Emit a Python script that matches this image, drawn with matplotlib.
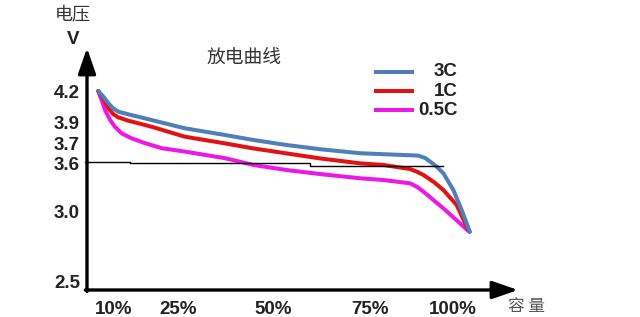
import numpy as np
import matplotlib
matplotlib.use('Agg')
import matplotlib.pyplot as plt
from matplotlib.lines import Line2D

# ---- data (capacity in %, voltage in V) ----
x_ticks = [10, 25, 50, 75, 100]
x_tick_labels = ["10%", "25%", "50%", "75%", "100%"]
y_ticks = [2.5, 3.0, 3.6, 3.7, 3.9, 4.2]
y_tick_labels = ["2.5", "3.0", "3.6", "3.7", "3.9", "4.2"]

series_names = ["3C", "1C", "0.5C"]

cap_3c = [6.3, 7.5, 8.7, 9.8, 11.0, 13.4, 15.7, 18.8, 26.8, 37.4, 44.8, 53.5, 62.1, 72.4,
          79.0, 89.5, 91.6, 93.1, 95.1, 97.1, 98.6, 100.1, 102.6, 105.1]
volt_3c = [4.20, 4.145, 4.081, 4.033, 4.00, 3.974, 3.951, 3.919, 3.84, 3.776, 3.729, 3.69, 3.669, 3.649,
           3.644, 3.637, 3.625, 3.607, 3.555, 3.474, 3.371, 3.27, 3.025, 2.855]

cap_1c = [6.3, 7.5, 8.7, 9.8, 11.0, 13.4, 15.7, 18.8, 26.8, 37.4, 44.8, 53.5, 62.1, 72.4,
          79.0, 87.0, 89.1, 91.1, 94.1, 97.1, 101.1, 104.6]
volt_1c = [4.20, 4.129, 4.033, 3.977, 3.945, 3.912, 3.888, 3.855, 3.76, 3.698, 3.673, 3.648, 3.623, 3.596,
           3.576, 3.527, 3.494, 3.453, 3.371, 3.27, 3.086, 2.87]

cap_05c = [6.3, 7.1, 7.9, 9.1, 10.2, 11.8, 14.1, 17.3, 21.2, 26.8, 37.4, 44.8, 53.5, 62.1, 72.4,
           79.0, 87.0, 89.1, 91.1, 94.1, 97.1, 102.1, 104.9]
volt_05c = [4.20, 4.113, 4.016, 3.919, 3.855, 3.792, 3.745, 3.699, 3.674, 3.657, 3.624, 3.576, 3.514, 3.465, 3.413,
            3.392, 3.352, 3.31, 3.249, 3.147, 3.045, 2.918, 2.857]

ref_cap = [3.2, 13.7, 59.5, 97.0]
ref_volt = [3.607, 3.594, 3.563, 3.563]

colors = ["#4f7fb8", "#e31212", "#ec18e6"]

# ---- schematic axes: tick labels are not evenly spaced ----
x_tick_px = [114, 178, 273, 370, 453]
y_tick_px = [281, 212, 163, 143, 122, 91]


def piecewise(xs, ys):
    xs = np.asarray(xs, float)
    ys = np.asarray(ys, float)

    def f(v):
        v = np.asarray(v, float)
        out = np.interp(v, xs, ys)
        lo_slope = (ys[1] - ys[0]) / (xs[1] - xs[0])
        hi_slope = (ys[-1] - ys[-2]) / (xs[-1] - xs[-2])
        out = np.where(v < xs[0], ys[0] + (v - xs[0]) * lo_slope, out)
        out = np.where(v > xs[-1], ys[-1] + (v - xs[-1]) * hi_slope, out)
        return out
    return f


x_fwd = piecewise(x_ticks, x_tick_px)
x_inv = piecewise(x_tick_px, x_ticks)
y_neg = [-p for p in y_tick_px]
y_fwd = piecewise(y_ticks, y_neg)
y_inv = piecewise(y_neg, y_ticks)

W, H = 640, 317
ax_left, ax_right, ax_top, ax_bottom = 87, 518, 48, 290

plt.rcParams['font.family'] = ['Liberation Sans', 'Noto Sans CJK SC', 'DejaVu Sans']
fig = plt.figure(figsize=(6.4, 3.17), dpi=100)
ax = fig.add_axes([ax_left / W, 1 - ax_bottom / H,
                   (ax_right - ax_left) / W, (ax_bottom - ax_top) / H])
ax.set_xscale('function', functions=(x_fwd, x_inv))
ax.set_yscale('function', functions=(y_fwd, y_inv))
ax.set_xlim(float(x_inv(ax_left)), float(x_inv(ax_right)))
ax.set_ylim(float(y_inv(-ax_bottom)), float(y_inv(-ax_top)))

for cap, volt, c in zip([cap_05c, cap_1c, cap_3c], [volt_05c, volt_1c, volt_3c], colors[::-1]):
    ax.plot(cap, volt, color=c, lw=2.9, solid_capstyle='round', solid_joinstyle='round')

ax.plot(ref_cap, ref_volt, color='black', lw=1.0, drawstyle='steps-post', clip_on=False)

for s in ax.spines.values():
    s.set_visible(False)

# axis arrows
arrow = dict(arrowstyle='-|>,head_length=1.3,head_width=0.45', mutation_scale=12,
             color='black', lw=2.4, shrinkA=0, shrinkB=0)
ax.annotate('', xy=(0, 1), xytext=(0, -0.006), xycoords='axes fraction', arrowprops=arrow)
ax.annotate('', xy=(1, 0), xytext=(-0.004, 0), xycoords='axes fraction', arrowprops=arrow)

ax.set_xticks(x_ticks, x_tick_labels)
ax.set_yticks(y_ticks, y_tick_labels)
ax.minorticks_off()
ax.tick_params(length=0, labelsize=13.5, colors='#222222')
ax.tick_params(axis='x', pad=8)
ax.tick_params(axis='y', pad=5)
for lbl in ax.get_xticklabels() + ax.get_yticklabels():
    lbl.set_fontweight('bold')

cjk = ['Noto Sans CJK SC', 'DejaVu Sans']
fig.text(73 / W, 1 - 15 / H, "电压", family=cjk, fontsize=13, color='#333333', ha='center', va='center')
fig.text(73 / W, 1 - 39 / H, "V", fontsize=13.5, fontweight='bold', color='#222222', ha='center', va='center')
fig.text(244 / W, 1 - 57 / H, "放电曲线", family=cjk, fontsize=13.5, color='#333333', ha='center', va='center')
fig.text(527 / W, 1 - 306 / H, "容 量", family=cjk, fontsize=12, color='#555555', ha='center', va='center')

# legend, drawn by hand so the labels sit right-aligned
for i, (name, c) in enumerate(zip(series_names, colors)):
    y = 1 - (72 + 19 * i) / H
    fig.add_artist(Line2D([376 / W, 412 / W], [y, y], color=c, lw=2.9, transform=fig.transFigure))
    fig.text(458 / W, y, name, fontsize=13.5, fontweight='bold', color='#222222', ha='right', va='center')

fig.savefig('out.png', dpi=100, facecolor='white')
